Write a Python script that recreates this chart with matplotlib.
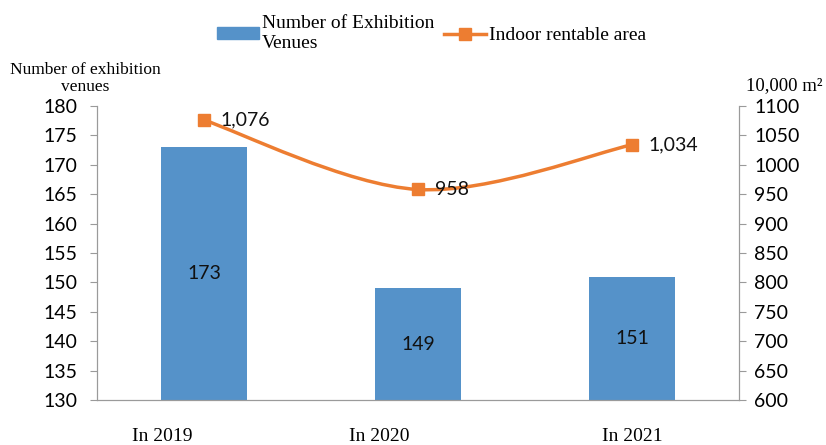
import matplotlib
matplotlib.use("Agg")
import matplotlib.pyplot as plt
from matplotlib.path import Path
from matplotlib.patches import PathPatch
from matplotlib.lines import Line2D
from matplotlib.patches import Patch
import matplotlib.transforms as mtransforms

# ---------------- DATA ----------------
years = ["In 2019", "In 2020", "In 2021"]
venues = [173, 149, 151]
area = [1076, 958, 1034]
area_labels = ["1,076", "958", "1,034"]

BLUE = "#5592C9"
ORANGE = "#ED7D31"
GREY = "#9A9A9A"
SANS = "Lato"
SERIF = "Liberation Serif"


def smooth_path(xs, ys):
    # Catmull-Rom style bezier through the points (Excel "smoothed line")
    pts = list(zip(xs, ys))
    verts = [pts[0]]
    codes = [Path.MOVETO]
    n = len(pts)
    for i in range(n - 1):
        p0 = pts[i - 1] if i > 0 else pts[i]
        p1 = pts[i]
        p2 = pts[i + 1]
        p3 = pts[i + 2] if i + 2 < n else pts[i + 1]
        c1 = (p1[0] + (p2[0] - p0[0]) / 6, p1[1] + (p2[1] - p0[1]) / 6)
        c2 = (p2[0] - (p3[0] - p1[0]) / 6, p2[1] - (p3[1] - p1[1]) / 6)
        verts += [c1, c2, p2]
        codes += [Path.CURVE4] * 3
    return Path(verts, codes)


fig = plt.figure(figsize=(8.26, 4.45), dpi=100)
ax = fig.add_axes([0.1174, 0.1011, 0.7773, 0.6607])
ax2 = ax.twinx()

x = list(range(len(years)))
bars = ax.bar(x, venues, width=0.4, color=BLUE, zorder=2)
ax.set_xlim(-0.5, 2.5)
ax.set_ylim(130, 180)
ax.set_yticks(range(130, 181, 5))
ax2.set_ylim(600, 1100)
ax2.set_yticks(range(600, 1101, 50))

for b, v in zip(bars, venues):
    ax.text(b.get_x() + b.get_width() / 2, (130 + v) / 2, str(v),
            ha="center", va="center", fontsize=14, family=SANS, color="#111111")

ax2.add_patch(PathPatch(smooth_path(x, area), facecolor="none",
                        edgecolor=ORANGE, lw=2.5, zorder=3))
ax2.plot(x, area, ls="none", marker="s", ms=8, color=ORANGE, zorder=4)
for xi, v, lab in zip(x, area, area_labels):
    ax2.annotate(lab, (xi, v), xytext=(12, 0), textcoords="offset points",
                 ha="left", va="center", fontsize=14, family=SANS, color="#111111")

# category labels sit a bit left of the bars in the original (except 2021)
ax.set_xticks(x)
ax.set_xticklabels([])
ax.tick_params(axis="x", length=0)
shifts = [-30, -28, 0]
base = mtransforms.blended_transform_factory(ax.transData, ax.transAxes)
for xi, lab, dx in zip(x, years, shifts):
    tr = base + mtransforms.ScaledTranslation(dx / 72, 0, fig.dpi_scale_trans)
    ax.text(xi, -0.125, lab, transform=tr, ha="center", va="center",
            family=SERIF, fontsize=14)

ax.tick_params(axis="y", labelsize=14, color=GREY, length=5, pad=9)
ax2.tick_params(axis="y", labelsize=14, color=GREY, length=5, pad=6)
for lab in ax.get_yticklabels() + ax2.get_yticklabels():
    lab.set_family(SANS)

for a in (ax, ax2):
    a.spines["top"].set_visible(False)
    for s in ("left", "right", "bottom"):
        a.spines[s].set_color(GREY)

fig.text(0.103, 0.787, "Number of exhibition\nvenues", ha="center", va="bottom",
         family=SERIF, fontsize=12.5, linespacing=1.1)
fig.text(0.950, 0.788, "10,000 m²", ha="center", va="bottom",
         family=SERIF, fontsize=13.5)

handles = [Patch(color=BLUE),
           Line2D([], [], color=ORANGE, lw=2.5, marker="s", ms=8)]
fig.legend(handles, ["Number of Exhibition\nVenues", "Indoor rentable area"],
           loc="upper center", bbox_to_anchor=(0.5224, 1.005), ncol=2, frameon=False,
           prop={"family": SERIF, "size": 14}, handlelength=2.15, handleheight=0.55,
           columnspacing=0.5, handletextpad=0.15, labelspacing=0.2)

plt.savefig("out.png", dpi=100)
